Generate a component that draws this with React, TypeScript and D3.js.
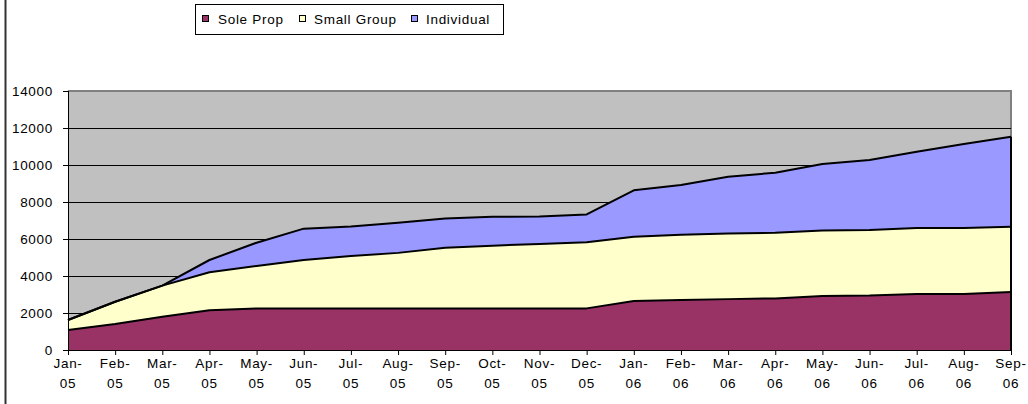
import React from 'react';
import * as d3 from 'd3';

const months = [
  'Jan-05', 'Feb-05', 'Mar-05', 'Apr-05', 'May-05', 'Jun-05', 'Jul-05', 'Aug-05', 'Sep-05', 'Oct-05', 'Nov-05',
  'Dec-05', 'Jan-06', 'Feb-06', 'Mar-06', 'Apr-06', 'May-06', 'Jun-06', 'Jul-06', 'Aug-06', 'Sep-06',
];
const soleProp = [1080, 1400, 1800, 2150, 2250, 2250, 2250, 2250, 2250, 2250, 2250, 2250, 2650, 2700, 2750, 2790, 2920, 2940, 3030, 3030, 3130];
const smallGroup = [540, 1210, 1680, 2050, 2290, 2615, 2830, 3000, 3280, 3390, 3480, 3570, 3475, 3530, 3550, 3550, 3540, 3540, 3560, 3560, 3530];
const individual = [0, 0, 0, 665, 1260, 1695, 1590, 1630, 1580, 1560, 1490, 1510, 2505, 2690, 3070, 3240, 3590, 3790, 4130, 4540, 4870];
const yTicks = [0, 2000, 4000, 6000, 8000, 10000, 12000, 14000];

const series = [
  { key: 'soleProp', name: 'Sole Prop', color: '#993366', values: soleProp },
  { key: 'smallGroup', name: 'Small Group', color: '#FFFFCC', values: smallGroup },
  { key: 'individual', name: 'Individual', color: '#9999FF', values: individual },
];

const W = 1028;
const H = 404;
const plot = { left: 68, right: 1011, top: 91, bottom: 350 };
const font = '"Liberation Sans", Arial, sans-serif';
const fs = 13.5;
const ls = 0.7;

export default function App() {
  const x = d3.scalePoint<string>().domain(months).range([plot.left, plot.right]);
  const y = d3.scaleLinear().domain([0, 14000]).range([plot.bottom, plot.top]);

  const rows = months.map((m, i) => {
    const r: Record<string, any> = { month: m };
    series.forEach(s => (r[s.key] = s.values[i]));
    return r;
  });
  const stacked = d3.stack<Record<string, any>>().keys(series.map(s => s.key))(rows);

  const area = d3.area<d3.SeriesPoint<Record<string, any>>>()
    .x(d => x(d.data.month) as number)
    .y0(d => y(d[0]))
    .y1(d => y(d[1]));
  const topLine = d3.line<d3.SeriesPoint<Record<string, any>>>()
    .x(d => x(d.data.month) as number)
    .y(d => y(d[1]));

  const legendItems = [
    { x: 202, tx: 218 },
    { x: 299, tx: 314 },
    { x: 411, tx: 426 },
  ];

  return (
    <svg width={W} height={H} style={{ position: 'absolute', left: 0, top: 0, fontFamily: font }}>
      <rect x={0} y={0} width={W} height={H} fill="#fff" />
      <line x1={5.5} x2={5.5} y1={0} y2={H} stroke="#333" strokeWidth={2} />

      {/* plot background */}
      <rect x={plot.left} y={plot.top} width={plot.right - plot.left} height={plot.bottom - plot.top} fill="#C0C0C0" />
      <path d={`M${plot.left},${plot.top}H${plot.right}V${plot.bottom}`} fill="none" stroke="#808080" strokeWidth={2} />

      {/* gridlines */}
      {yTicks.slice(1, -1).map(t => (
        <line key={t} x1={plot.left} x2={plot.right} y1={y(t) + 0.5} y2={y(t) + 0.5} stroke="#000" strokeWidth={1} />
      ))}

      {/* stacked areas */}
      {stacked.map((layer, i) => (
        <path key={series[i].key} d={area(layer) || ''} fill={series[i].color} />
      ))}
      {stacked.map((layer, i) => (
        <path key={series[i].key + '-l'} d={topLine(layer) || ''} fill="none" stroke="#000" strokeWidth={2} strokeLinejoin="round" />
      ))}
      <line x1={plot.right} x2={plot.right} y1={y(d3.sum(series, s => s.values[s.values.length - 1]))} y2={plot.bottom} stroke="#000" strokeWidth={2} />

      {/* y axis */}
      <line x1={plot.left + 0.5} x2={plot.left + 0.5} y1={plot.top} y2={plot.bottom} stroke="#000" />
      {yTicks.map(t => (
        <g key={t}>
          <line x1={plot.left - 5} x2={plot.left} y1={y(t) + 0.5} y2={y(t) + 0.5} stroke="#000" />
          <text x={53} y={y(t)} dy="0.35em" textAnchor="end" fontSize={fs} letterSpacing={ls} fill="#000">{t}</text>
        </g>
      ))}

      {/* x axis */}
      <line x1={plot.left} x2={plot.right} y1={plot.bottom + 0.5} y2={plot.bottom + 0.5} stroke="#000" />
      {months.map(m => {
        const [mon, yr] = m.split('-');
        const px = x(m) as number;
        return (
          <g key={m}>
            <line x1={px + 0.5} x2={px + 0.5} y1={plot.bottom} y2={plot.bottom + 5} stroke="#000" />
            <text x={px} y={368} textAnchor="middle" fontSize={fs} letterSpacing={ls} fill="#000">{mon + '-'}</text>
            <text x={px} y={388} textAnchor="middle" fontSize={fs} letterSpacing={ls} fill="#000">{yr}</text>
          </g>
        );
      })}

      {/* legend */}
      <rect x={195.5} y={4.5} width={308} height={30} fill="#fff" stroke="#000" />
      {series.map((s, i) => (
        <g key={s.key}>
          <rect x={legendItems[i].x + 0.5} y={15.5} width={6} height={6} fill={s.color} stroke="#000" />
          <text x={legendItems[i].tx} y={23.5} fontSize={fs} letterSpacing={ls} fill="#000">{s.name}</text>
        </g>
      ))}
    </svg>
  );
}
